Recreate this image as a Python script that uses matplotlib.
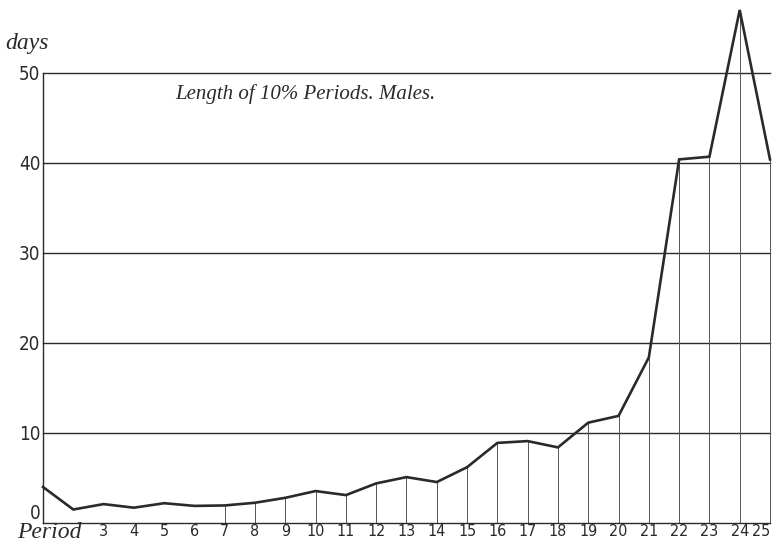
import matplotlib
matplotlib.use("Agg")
import matplotlib.pyplot as plt

# length of 10% periods, males (days)
periods = list(range(1, 26))
days = [4.0, 1.5, 2.1, 1.7, 2.2, 1.9, 1.95, 2.25, 2.8, 3.55, 3.1, 4.4, 5.1,
        4.55, 6.2, 8.9, 9.1, 8.4, 11.15, 11.9, 18.4, 40.4, 40.7, 57.0, 40.4]
y_ticks = [0, 10, 20, 30, 40, 50]
x_ticks = list(range(3, 26))
x_labels = [str(p) for p in x_ticks]

ink = "#2a2a2a"
num_font = ["DejaVu Sans"]
script_font = ["Liberation Serif", "DejaVu Serif"]

fig = plt.figure(figsize=(7.76, 5.47), dpi=100)
ax = fig.add_axes([43 / 776, 1 - 523 / 547, (770 - 43) / 776, (523 - 73) / 547])
ax.set_xlim(1, 25)
ax.set_ylim(0, 50)

# horizontal rules
for y in y_ticks[1:]:
    ax.plot([1, 25], [y, y], color=ink, lw=1.0, clip_on=False)

# drop lines from the curve down to the base
for p, d in zip(periods, days):
    if p >= 7:
        ax.plot([p, p], [0, d], color="#555555", lw=0.7, clip_on=False)

ax.plot(periods, days, color=ink, lw=1.9, clip_on=False, solid_joinstyle="miter")

for s in ["top", "right"]:
    ax.spines[s].set_visible(False)
for s in ["left", "bottom"]:
    ax.spines[s].set_color(ink)
    ax.spines[s].set_linewidth(1.0)

ax.set_yticks(y_ticks)
ax.set_yticklabels([str(v) for v in y_ticks], family=num_font, fontsize=13.5,
                   color=ink, stretch="condensed")
ax.set_xticks(x_ticks)
ax.set_xticklabels(x_labels, family=num_font, fontsize=11.5, color=ink,
                   stretch="condensed")
ax.tick_params(axis="x", length=0, pad=1)
ax.tick_params(axis="y", length=0, pad=2)

# keep the "0" clear of the Period label, and "25" inside the frame
ax.get_yticklabels()[0].set_va("bottom")
ax.get_xticklabels()[-1].set_ha("right")

fig.text(5 / 776, 1 - 44 / 547, "days", family=script_font, style="italic",
         fontsize=17, color=ink, va="center", ha="left")
fig.text(17 / 776, 1 - 533 / 547, "Period", family=script_font, style="italic",
         fontsize=17, color=ink, va="center", ha="left")
fig.text(305 / 776, 1 - 94 / 547, "Length of 10% Periods. Males.", family=script_font,
         style="italic", fontsize=15, color=ink, va="center", ha="center")

fig.savefig("out.png", dpi=100)
